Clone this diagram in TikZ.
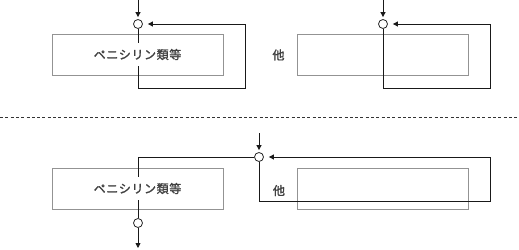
\documentclass[tikz,border=0pt]{standalone}
\usepackage{fontspec}
\newfontfamily\jpfont[LetterSpace=5,FakeBold=1.5]{Noto Sans CJK JP}
\usepackage{tikz}
\usetikzlibrary{arrows.meta}

\tikzset{
  pbox/.style={draw=gray!85, line width=0.9pt, minimum width=171pt, minimum height=41pt, inner sep=0pt},
  ptext/.style={fill=white, inner xsep=2pt, inner ysep=6pt, text=black!75, font=\jpfont\fontsize{12}{14}\selectfont},
  plabel/.style={text=black!75, font=\jpfont\fontsize{12}{14}\selectfont, inner sep=0pt},
  valve/.style={draw=black!85, circle, line width=0.8pt, minimum size=9pt, inner sep=0pt},
  pipe/.style={draw=black!90, line width=0.8pt},
  flow/.style={pipe, -{Triangle[length=5pt,width=5pt]}}
}

\begin{document}
\begin{tikzpicture}[x=1pt,y=-1pt]
  \useasboundingbox (0,0) rectangle (519,249);
  % Top: two units
  \node[pbox] (boxA) at (137.5,54.5) {};
  \node[pbox] (boxB) at (382.5,54.5) {};
  \node[valve] (cA) at (138,24) {};
  \node[valve] (cB) at (383,24) {};
  \coordinate (inA) at (138,0);
  \coordinate (inB) at (383,0);
  \coordinate (retA) at (245,88);
  \coordinate (retB) at (490,88);
  \draw[flow, shorten >=2pt] (inA) -- (cA);
  \draw[flow, shorten >=2pt] (inB) -- (cB);
  \draw[flow, shorten >=5pt] (cA.south) |- (retA) |- (cA.east);
  \draw[flow, shorten >=5pt] (cB.south) |- (retB) |- (cB.east);
  \node[ptext] (txtA) at (boxA) {ペニシリン類等};
  \node[plabel] (lblB) at (278.5,55) {他};
  % Separator
  \draw[black!80, line width=0.8pt, dash pattern=on 3pt off 2.3pt] (0,117) -- (519,117);
  % Bottom: shared valve
  \node[pbox] (boxC) at (137.5,188.5) {};
  \node[pbox] (boxD) at (382.5,188.5) {};
  \node[valve] (cD) at (259,157) {};
  \node[valve] (cE) at (138,223) {};
  \coordinate (inD) at (259,133);
  \coordinate (outE) at (138,248);
  \coordinate (retD) at (490,201);
  \draw[flow, shorten >=2pt] (inD) -- (cD);
  \draw[pipe] (cD.west) -| (cE.north);
  \draw[flow] (cE) -- (outE);
  \draw[flow, shorten >=5pt] (cD.south) |- (retD) |- (cD.east);
  \node[ptext] (txtC) at (boxC) {ペニシリン類等};
  \node[plabel] (lblD) at (279,190.5) {他};
\end{tikzpicture}
\end{document}
